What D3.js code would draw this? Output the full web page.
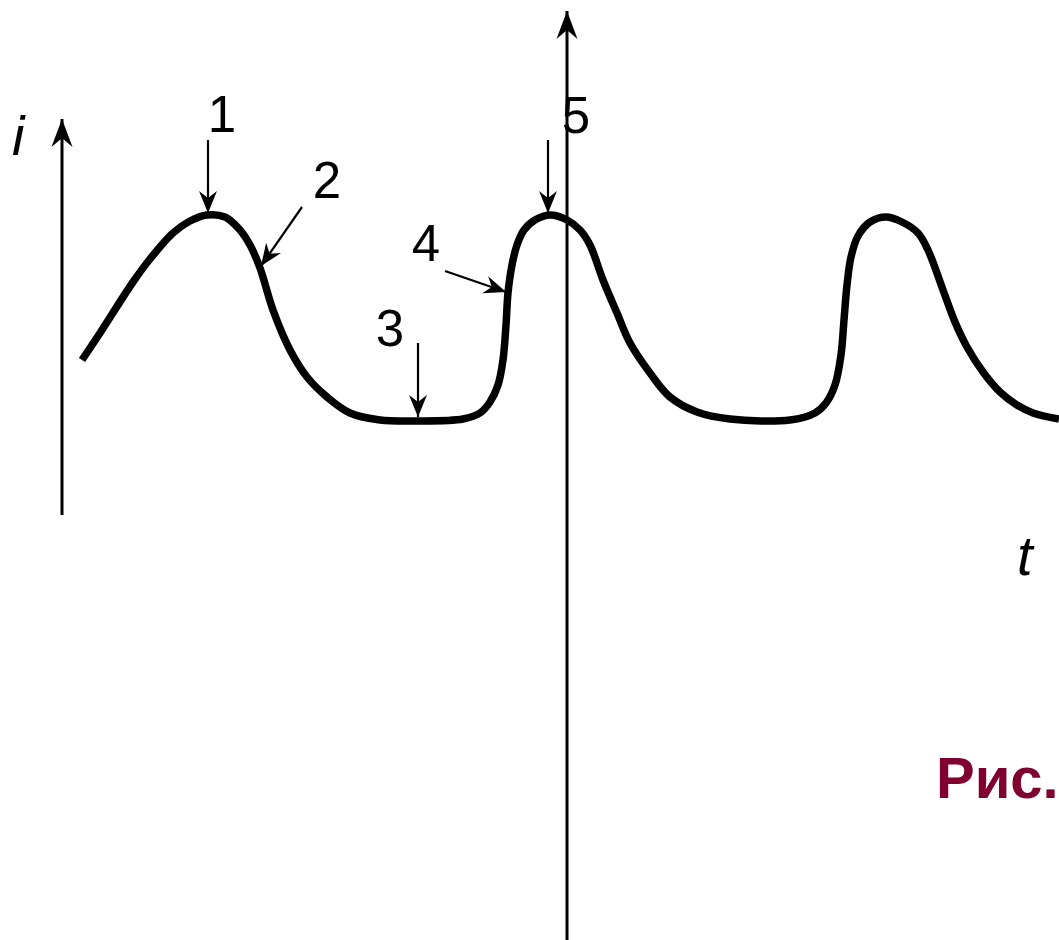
<!DOCTYPE html>
<html>
<head>
<meta charset="utf-8">
<script src="https://cdn.jsdelivr.net/npm/d3@7"></script>
<style>
  html, body { margin: 0; padding: 0; background: #fff; }
  svg { display: block; font-family: "Liberation Sans", Arial, sans-serif; }
</style>
</head>
<body>
<div id="chart"></div>
<script>
// curve i(t), arbitrary units
const curveT = [2.0, 3.8, 7.1, 8.8, 11.1, 12.8, 14.5, 16.3, 17.8, 18.8, 19.8, 21.1, 22.8, 24.5, 26.5, 28.8, 31.8, 35.5,
  40.1, 41.8, 42.8, 43.6, 44.1, 44.4, 44.6, 45.0, 45.5, 46.2, 47.3, 48.8, 50.5, 51.8, 52.8, 54.1, 55.5, 56.8, 58.8,
  60.8, 63.5, 66.8, 72.8, 75.3, 76.4, 77.3, 77.9, 78.2, 78.5, 78.9, 79.6, 80.8, 82.4, 84.0, 85.6, 86.6, 88.1, 89.3,
  90.5, 92.1, 93.8, 95.5, 97.1, 99.7];
const curveI = [3.875, 4.55, 5.825, 6.4, 7.05, 7.35, 7.5, 7.45, 7.125, 6.75, 6.175, 5.125, 4.125, 3.45, 2.95, 2.55, 2.375, 2.35,
  2.4, 2.55, 2.825, 3.25, 3.875, 4.75, 5.55, 6.25, 6.75, 7.125, 7.375, 7.5, 7.375, 7.125, 6.75, 5.875, 5.05, 4.3, 3.55,
  2.95, 2.575, 2.4, 2.375, 2.55, 2.8, 3.25, 4.0, 4.875, 5.75, 6.45, 6.975, 7.325, 7.45, 7.325, 7.05, 6.625, 5.625, 4.825,
  4.2, 3.575, 3.075, 2.75, 2.55, 2.4];

// pointer arrows: start and end, and where their numbers sit
const markLabels = ["1", "2", "3", "4", "5"];
const markFromT = [14.6, 24.0, 35.6, 38.3, 48.6];
const markFromI = [9.375, 7.7, 4.3, 6.1, 9.375];
const markToT = [14.6, 19.9, 35.6, 44.4, 48.6];
const markToI = [7.55, 6.225, 2.45, 5.575, 7.55];
const labelT = [16.0, 26.5, 32.8, 36.4, 51.4];
const labelI = [9.575, 7.925, 4.225, 6.35, 9.55];

// axes
const iAxis = { t: 0, from: 0, to: 9.9 };
const tMarker = { t: 50.5, from: -10.7, to: 12.6 };

const W = 1059, H = 940;
const svg = d3.select("#chart").append("svg").attr("width", W).attr("height", H);

const x = d3.scaleLinear().domain([0, 100]).range([62, 1062]);
const y = d3.scaleLinear().domain([0, 10]).range([515, 115]);

const defs = svg.append("defs");
defs.append("marker")
  .attr("id", "bigHead").attr("markerUnits", "userSpaceOnUse")
  .attr("viewBox", "-30 -12 32 24").attr("markerWidth", 32).attr("markerHeight", 24)
  .attr("refX", 0).attr("refY", 0).attr("orient", "auto")
  .append("path").attr("d", "M0,0 L-28,-10.5 L-19,0 L-28,10.5 Z").attr("fill", "#000");
defs.append("marker")
  .attr("id", "smallHead").attr("markerUnits", "userSpaceOnUse")
  .attr("viewBox", "-24 -11 26 22").attr("markerWidth", 26).attr("markerHeight", 22)
  .attr("refX", 0).attr("refY", 0).attr("orient", "auto")
  .append("path").attr("d", "M0,0 L-22,-9 L-15,0 L-22,9 Z").attr("fill", "#000");

// i axis
svg.append("line")
  .attr("x1", x(iAxis.t)).attr("x2", x(iAxis.t))
  .attr("y1", y(iAxis.from)).attr("y2", y(iAxis.to))
  .attr("stroke", "#000").attr("stroke-width", 3)
  .attr("marker-end", "url(#bigHead)");

// vertical line with arrow
svg.append("line")
  .attr("x1", x(tMarker.t)).attr("x2", x(tMarker.t))
  .attr("y1", y(tMarker.from)).attr("y2", y(tMarker.to))
  .attr("stroke", "#000").attr("stroke-width", 3)
  .attr("marker-end", "url(#bigHead)");

// curve
const pts = curveT.map((t, k) => [t, curveI[k]]);
const line = d3.line().x(d => x(d[0])).y(d => y(d[1])).curve(d3.curveCatmullRom.alpha(0.5));
svg.append("path")
  .attr("d", line(pts))
  .attr("fill", "none").attr("stroke", "#000").attr("stroke-width", 7.5)
  .attr("stroke-linejoin", "round");

// pointer arrows
svg.selectAll("line.ptr").data(markLabels).enter().append("line")
  .attr("class", "ptr")
  .attr("x1", (d, k) => x(markFromT[k])).attr("y1", (d, k) => y(markFromI[k]))
  .attr("x2", (d, k) => x(markToT[k])).attr("y2", (d, k) => y(markToI[k]))
  .attr("stroke", "#000").attr("stroke-width", 2.2)
  .attr("marker-end", "url(#smallHead)");

svg.selectAll("text.num").data(markLabels).enter().append("text")
  .attr("class", "num")
  .attr("x", (d, k) => x(labelT[k])).attr("y", (d, k) => y(labelI[k]))
  .attr("text-anchor", "middle").attr("font-size", 51).attr("fill", "#000")
  .text(d => d);

// axis names
svg.append("text").attr("x", 12).attr("y", 155)
  .attr("font-size", 56).attr("font-style", "italic").text("i");
svg.append("text").attr("x", 1017).attr("y", 575)
  .attr("font-size", 56).attr("font-style", "italic").text("t");

svg.append("text").attr("x", 936).attr("y", 798)
  .attr("font-size", 58).attr("font-weight", "bold").attr("fill", "#800030")
  .text("Рис.");
</script>
</body>
</html>
